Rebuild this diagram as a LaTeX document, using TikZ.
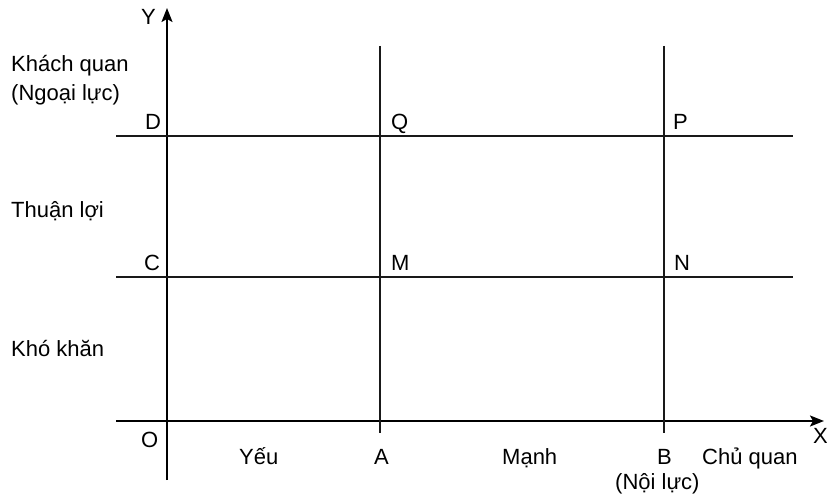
\documentclass[tikz,border=0pt]{standalone}
\usepackage{fontspec}
\setmainfont{Liberation Sans}
\usetikzlibrary{arrows.meta}

\begin{document}
\begin{tikzpicture}[
      x=1pt, y=-1pt,
      axis/.style={line width=2.2pt, color=black},
      gridline/.style={line width=1.6pt, color=black!90},
      lbl/.style={inner sep=0pt, anchor=base west, font=\fontsize{22}{26}\selectfont},
    ]
      \useasboundingbox (0,0) rectangle (827,502);

      % end points of the axes and grid lines
      \coordinate (ybot) at (167,480);
      \coordinate (ytop) at (167,8);
      \coordinate (xleft) at (116,421);
      \coordinate (xright) at (824,421);
      \coordinate (atop) at (380,46);
      \coordinate (abot) at (380,433);
      \coordinate (btop) at (664,46);
      \coordinate (bbot) at (664,433);
      \coordinate (dleft) at (116,136);
      \coordinate (dright) at (793,136);
      \coordinate (cleft) at (116,277);
      \coordinate (cright) at (793,277);

      \draw[axis, -{Stealth[length=14pt, width=11pt, inset=3pt]}] (ybot) -- (ytop);
      \draw[axis, -{Stealth[length=14pt, width=11pt, inset=3pt]}] (xleft) -- (xright);
      \draw[gridline] (atop) -- (abot);
      \draw[gridline] (btop) -- (bbot);
      \draw[gridline] (dleft) -- (dright);
      \draw[gridline] (cleft) -- (cright);

      % point labels
      \node[lbl] (ylab) at (141,25) {Y};
      \node[lbl] (xlab) at (813,443) {X};
      \node[lbl] (dlab) at (145,130) {D};
      \node[lbl] (qlab) at (391,130) {Q};
      \node[lbl] (plab) at (673,130) {P};
      \node[lbl] (clab) at (144,271) {C};
      \node[lbl] (mlab) at (391,271) {M};
      \node[lbl] (nlab) at (674,271) {N};
      \node[lbl] (olab) at (141,447) {O};
      \node[lbl] (alab) at (374,464) {A};
      \node[lbl] (blab) at (657,464) {B};

      % side texts
      \node[lbl] (khach) at (11,72) {Khách quan};
      \node[lbl] (ngoai) at (11,101) {(Ngoại lực)};
      \node[lbl] (thuan) at (11,218) {Thuận lợi};
      \node[lbl] (khokhan) at (11,356) {Khó khăn};
      \node[lbl] (yeu) at (239,464) {Yếu};
      \node[lbl] (manh) at (502,464) {Mạnh};
      \node[lbl] (chu) at (702,464) {Chủ quan};
      \node[lbl] (noi) at (615,489) {(Nội lực)};

    \end{tikzpicture}
\end{document}
